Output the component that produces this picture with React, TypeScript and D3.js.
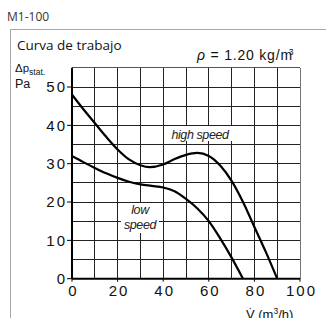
import React from "react";
import * as d3 from "d3";

// operating curves (flow m3/h, static pressure Pa)
const highFlow = [0, 5, 10, 15, 20, 25, 30, 34, 40, 45, 50, 55, 60, 65, 70, 75, 80, 85, 90];
const highPress = [48, 44.2, 40.6, 37.0, 33.7, 31.1, 29.6, 29.1, 29.8, 31.2, 32.3, 32.8, 32, 29.5, 25.5, 20, 13.5, 7, 0];
const lowFlow = [0, 5, 10, 15, 20, 25, 30, 35, 40, 45, 50, 55, 60, 65, 70, 75];
const lowPress = [32, 30.4, 28.9, 27.5, 26.3, 25.3, 24.6, 24.2, 23.8, 22.8, 20.8, 18.3, 15, 10.5, 5.5, 0];

const xTicks = [0, 20, 40, 60, 80, 100];
const yTicks = [0, 10, 20, 30, 40, 50];

const W = 326;
const H = 318;
const sans = "'Liberation Sans', Arial, sans-serif";
const ui = "'Open Sans', 'Noto Sans', sans-serif";

export default function App() {
  const x = d3.scaleLinear().domain([0, 100]).range([72, 300]);
  const y = d3.scaleLinear().domain([0, 50]).range([278.7, 87]);

  const xGrid = d3.range(0, 101, 10);
  const yGrid = d3.range(0, 56, 5);

  const line = d3
    .line<[number, number]>()
    .x((d) => x(d[0]))
    .y((d) => y(d[1]))
    .curve(d3.curveMonotoneX);

  const high = highFlow.map((f, i) => [f, highPress[i]] as [number, number]);
  const low = lowFlow.map((f, i) => [f, lowPress[i]] as [number, number]);

  return (
    <svg
      width={W}
      height={H}
      style={{ position: "absolute", left: 0, top: 0, background: "#fff" }}
    >
      <text x={7} y={20.5} fontFamily={ui} fontSize={12} fill="#333">
        M1-100
      </text>

      <rect x={10.5} y={29.5} width={400} height={400} fill="none" stroke="#aaa" strokeWidth={1} />

      <text x={17} y={49.5} fontFamily={ui} fontSize={13.5} fill="#111">
        Curva de trabajo
      </text>
      <text x={197} y={60} fontFamily={sans} fontSize={14} fill="#111" letterSpacing={0.8}>
        <tspan fontStyle="italic">ρ</tspan> = 1.20 kg/m
        <tspan dx={-4} dy={-5} fontSize={8.5}>3</tspan>
      </text>

      <text x={15} y={72} fontFamily={sans} fontSize={11.5} fill="#111">
        Δp
        <tspan dy={3} fontSize={8.5}>stat.</tspan>
      </text>
      <text x={15} y={88} fontFamily={sans} fontSize={12.5} fill="#111">
        Pa
      </text>

      {/* grid */}
      <g stroke="#222" strokeWidth={1} shapeRendering="crispEdges">
        {xGrid.map((v) => (
          <line key={"gx" + v} x1={x(v)} x2={x(v)} y1={y(55)} y2={y(0)} />
        ))}
        {yGrid.map((v) => (
          <line key={"gy" + v} x1={x(0)} x2={x(100)} y1={y(v)} y2={y(v)} />
        ))}
      </g>
      <line x1={x(100)} x2={x(100)} y1={y(55)} y2={y(0)} stroke="#777" shapeRendering="crispEdges" />
      <line x1={x(0)} x2={x(100)} y1={y(55)} y2={y(55)} stroke="#555" shapeRendering="crispEdges" />

      {/* axes */}
      <line x1={x(0)} x2={x(0)} y1={y(55)} y2={y(0)} stroke="#000" strokeWidth={2} />
      <line x1={x(0)} x2={x(100)} y1={y(0)} y2={y(0)} stroke="#000" strokeWidth={2} />
      <g stroke="#000" strokeWidth={1}>
        {yTicks.map((v) => (
          <line key={"ty" + v} x1={x(0) - 5} x2={x(0)} y1={y(v)} y2={y(v)} />
        ))}
        {xTicks.map((v) => (
          <line key={"tx" + v} x1={x(v)} x2={x(v)} y1={y(0)} y2={y(0) + 3} />
        ))}
      </g>
      <g fontFamily={sans} fontSize={15} fill="#111" letterSpacing={2}>
        {yTicks.map((v) => (
          <text key={"ly" + v} x={x(0) - 5} y={y(v) + 5.3} textAnchor="end">
            {v}
          </text>
        ))}
        {xTicks.map((v) => (
          <text key={"lx" + v} x={x(v) + 1.5} y={295.5} textAnchor="middle">
            {v}
          </text>
        ))}
      </g>

      {/* curves */}
      <path d={line(high) || ""} fill="none" stroke="#000" strokeWidth={2.2} />
      <path d={line(low) || ""} fill="none" stroke="#000" strokeWidth={2.2} />

      {/* curve labels */}
      <rect x={168} y={126} width={64} height={15} fill="#fff" />
      <text x={200} y={138.5} textAnchor="middle" fontFamily={sans} fontSize={12.5} fontStyle="italic" fill="#222" letterSpacing={-0.4}>
        high speed
      </text>
      <rect x={121} y={203} width={38} height={30} fill="#fff" />
      <text x={140} y={214} textAnchor="middle" fontFamily={sans} fontSize={12.5} fontStyle="italic" fill="#222" letterSpacing={-0.4}>
        low
      </text>
      <text x={140} y={229} textAnchor="middle" fontFamily={sans} fontSize={12.5} fontStyle="italic" fill="#222" letterSpacing={-0.4}>
        speed
      </text>

      <text x={246} y={319} fontFamily={sans} fontSize={13} fill="#111">
        V̇ (m
        <tspan dy={-5} fontSize={8.5}>3</tspan>
        <tspan dy={5}>/h)</tspan>
      </text>
    </svg>
  );
}
